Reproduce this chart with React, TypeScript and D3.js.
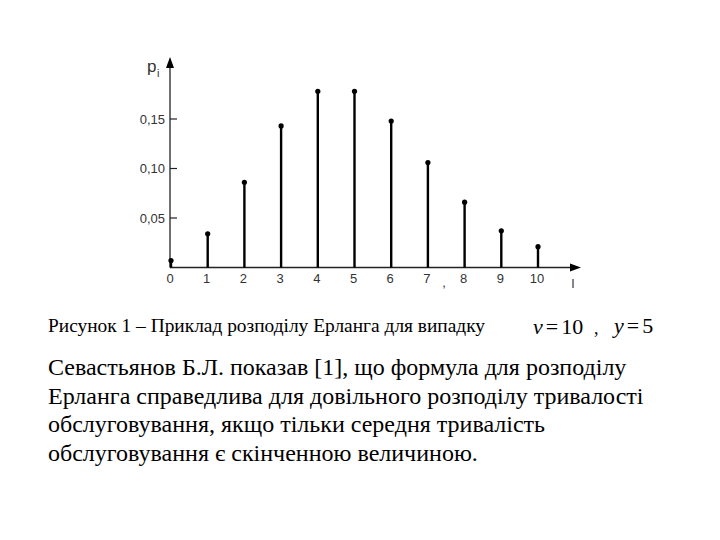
import React from "react";
import * as d3 from "d3";

const categories: number[] = [0, 1, 2, 3, 4, 5, 6, 7, 8, 9, 10];
const probabilities: number[] = [0.007, 0.034, 0.086, 0.143, 0.178, 0.178, 0.148, 0.106, 0.066, 0.037, 0.021];
const yTicks: number[] = [0.05, 0.1, 0.15];
const yTickLabels: string[] = ["0,05", "0,10", "0,15"];
const captionText = "Рисунок 1 – Приклад розподілу Ерланга для випадку";
const paragraphLines: string[] = [
  "Севастьянов Б.Л. показав [1], що формула для розподілу",
  "Ерланга справедлива для довільного розподілу тривалості",
  "обслуговування, якщо тільки середня тривалість",
  "обслуговування є скінченною величиною.",
];

const sansStyle: React.CSSProperties = { fontFamily: "'Liberation Sans', Arial, sans-serif" };
const serifStyle: React.CSSProperties = { fontFamily: "'Liberation Serif', 'Times New Roman', serif" };

export default function App() {
  const x = d3.scaleLinear().domain([0, 10]).range([171, 538]);
  const y = d3.scaleLinear().domain([0, 0.05]).range([267.5, 218]);
  const x0 = 170;
  const y0 = y(0);
  const axisColor = "#222";

  return (
    <svg
      width={720}
      height={540}
      style={{ position: "absolute", left: 0, top: 0, background: "#fff" }}
    >
      <rect width={720} height={540} fill="#fff" />
      <line x1={x0} y1={y0} x2={x0} y2={66} stroke={axisColor} strokeWidth={1.3} />
      <path d={`M${x0 - 4},${68} L${x0},${57} L${x0 + 4},${68} Z`} fill="#000" />
      <line x1={x0} y1={y0} x2={572} y2={y0} stroke={axisColor} strokeWidth={1.3} />
      <path d={`M${570},${y0 - 4} L${581},${y0} L${570},${y0 + 4} Z`} fill="#000" />

      <g style={sansStyle} fill="#333">
        {yTicks.map((t, i) => (
          <g key={t}>
            <line x1={x0} x2={x0 + 7} y1={y(t)} y2={y(t)} stroke={axisColor} strokeWidth={1.2} />
            <text x={165} y={y(t) + 4.5} textAnchor="end" style={{ ...sansStyle, fontSize: "13px" }}>
              {yTickLabels[i]}
            </text>
          </g>
        ))}
        <text x={147} y={72} style={{ ...sansStyle, fontSize: "17px" }}>p</text>
        <text x={157} y={77} style={{ ...sansStyle, fontSize: "11px" }}>i</text>
      </g>

      {categories.map((c, i) => (
        <g key={c}>
          <line x1={x(c)} x2={x(c)} y1={y0} y2={y(probabilities[i])} stroke="#000" strokeWidth={2.4} />
          <circle cx={x(c)} cy={y(probabilities[i])} r={2.6} fill="#000" />
          <text
            x={x(c) - 1}
            y={283}
            textAnchor="middle"
            fill="#333"
            style={{ ...sansStyle, fontSize: "13px" }}
          >
            {String(c)}
          </text>
        </g>
      ))}
      <text x={444} y={287} fill="#333" textAnchor="middle" style={{ ...sansStyle, fontSize: "13px" }}>,</text>
      <text x={573} y={288} fill="#333" textAnchor="middle" style={{ ...sansStyle, fontSize: "13px" }}>l</text>

      <text x={48} y={332} fill="#000" style={{ ...serifStyle, fontSize: "19.4px" }}>
        {captionText}
      </text>
      <text x={533} y={334} fill="#000" style={{ ...serifStyle, fontSize: "22px" }}>
        <tspan style={{ fontStyle: "italic" }}>v</tspan>
        <tspan dx={3}>=</tspan>
        <tspan dx={3}>10</tspan>
      </text>
      <text x={594} y={334} fill="#000" style={{ ...serifStyle, fontSize: "18px" }}>,</text>
      <text x={614} y={333} fill="#000" style={{ ...serifStyle, fontSize: "22px" }}>
        <tspan style={{ fontStyle: "italic" }}>y</tspan>
        <tspan dx={3}>=</tspan>
        <tspan dx={3}>5</tspan>
      </text>

      {paragraphLines.map((line, i) => (
        <text key={i} x={48} y={375 + i * 28.5} fill="#000" style={{ ...serifStyle, fontSize: "24px" }}>
          {line}
        </text>
      ))}
    </svg>
  );
}
